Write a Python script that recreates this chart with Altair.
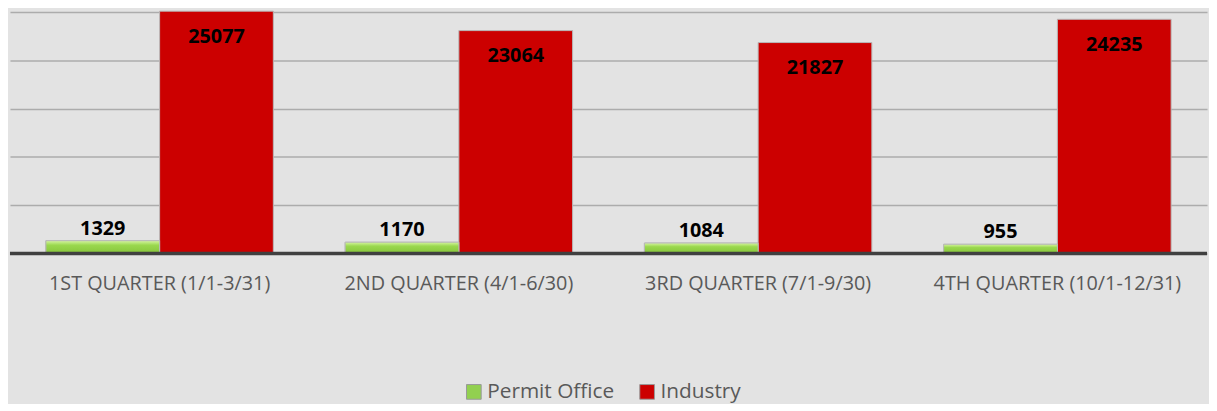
import altair as alt
import pandas as pd

quarters = ["1ST QUARTER (1/1-3/31)", "2ND QUARTER (4/1-6/30)",
            "3RD QUARTER (7/1-9/30)", "4TH QUARTER (10/1-12/31)"]
series = ["Permit Office", "Industry"]
permit_office = [1329, 1170, 1084, 955]
industry = [25077, 23064, 21827, 24235]
colors = ["#92d050", "#cc0000"]
grid_values = [0, 5000, 10000, 15000, 20000, 25000]

rows = []
for q, p, i in zip(quarters, permit_office, industry):
    rows.append({"quarter": q, "series": "Permit Office", "value": p})
    rows.append({"quarter": q, "series": "Industry", "value": i})
df = pd.DataFrame(rows)

FONT = "Open Sans"

base = alt.Chart(df).encode(
    x=alt.X("quarter:N", sort=quarters,
            scale=alt.Scale(paddingInner=0.24, paddingOuter=0.12),
            axis=alt.Axis(title=None, labelAngle=0, labelFontSize=20, labelFont=FONT,
                          labelColor="#595959", labelPadding=20, ticks=False,
                          domain=False, grid=False, labelLimit=0)),
    xOffset=alt.XOffset("series:N", sort=series),
    y=alt.Y("value:Q", scale=alt.Scale(domain=[0, 25200], nice=False),
            axis=alt.Axis(title=None, labels=False, ticks=False, domain=False,
                          values=grid_values, gridColor="#acacac", gridWidth=1.5)),
)

bars = base.mark_bar(stroke="#b8b8b8", strokeWidth=1).encode(
    color=alt.Color("series:N", sort=series,
                    scale=alt.Scale(domain=series, range=colors),
                    legend=alt.Legend(title=None, orient="none", legendX=458, legendY=375,
                                      direction="horizontal", symbolType="square",
                                      symbolSize=220, symbolStrokeColor="#999999",
                                      symbolStrokeWidth=1, labelFont=FONT,
                                      labelFontSize=21, labelColor="#595959",
                                      columnPadding=22, labelOffset=3))
)

green_overlay = base.transform_filter(alt.datum.series == "Permit Office").mark_bar(
    color=alt.Gradient(gradient="linear",
                       stops=[alt.GradientStop(color="#d6f5a0", offset=0),
                              alt.GradientStop(color="#9ad84e", offset=0.35),
                              alt.GradientStop(color="#86c43a", offset=1)],
                       x1=0, x2=0, y1=0, y2=1),
    stroke="#b8b8b8", strokeWidth=1,
)

red_labels = base.transform_filter(alt.datum.series == "Industry").mark_text(
    baseline="middle", dy=26, font=FONT, fontSize=20, fontWeight="bold", color="black"
).encode(text="value:Q")

green_labels = base.transform_filter(alt.datum.series == "Permit Office").mark_text(
    baseline="middle", dy=-12, font=FONT, fontSize=20, fontWeight="bold", color="black"
).encode(text="value:Q")

baseline_rule = alt.Chart(pd.DataFrame({"v": [0]})).mark_rule(
    color="#404040", strokeWidth=3.5).encode(y="v:Q")

chart = alt.layer(bars, green_overlay, baseline_rule, red_labels, green_labels).properties(
    width=1209, height=246, background="#e3e3e3", padding=0
).configure_view(stroke=None)

chart.save("out.html", embed_options={"renderer": "svg", "actions": False})
